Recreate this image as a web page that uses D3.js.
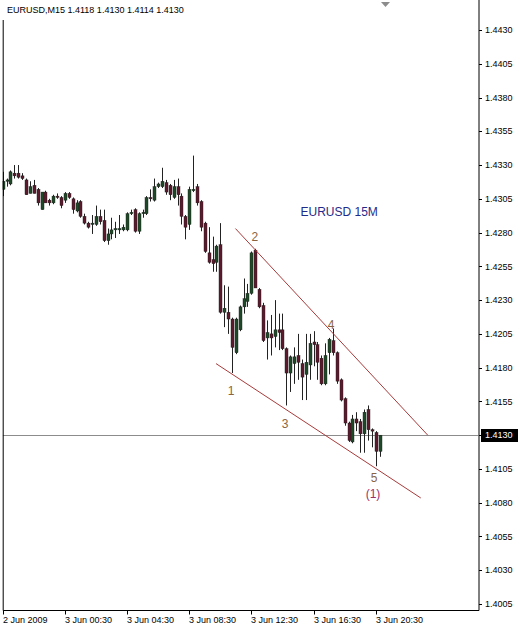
<!DOCTYPE html>
<html>
<head>
<meta charset="utf-8">
<script src="https://cdn.jsdelivr.net/npm/d3@7"></script>
<style>
  body { margin: 0; background: #fff; }
  svg { display: block; font-family: "Liberation Sans", Arial, sans-serif; }
</style>
</head>
<body>
<div id="chart-container"></div>
<script>

// Chart data (EURUSD M15, 2 Jun 20:30 .. 3 Jun 20:45).
const titleText = "EURUSD,M15  1.4118 1.4130 1.4114 1.4130";

const opens = [
  1.4312, 1.4318, 1.4316, 1.4324, 1.4324, 1.4322, 1.4319, 1.4309, 1.4315, 1.4312,
  1.4297, 1.4310, 1.4304, 1.4302, 1.4307, 1.4306, 1.4304, 1.4309, 1.4305, 1.4296,
  1.4303, 1.4292, 1.4287, 1.4286, 1.4286, 1.4292, 1.4289, 1.4274, 1.4279, 1.4282,
  1.4282, 1.4282, 1.4282, 1.4294, 1.4297, 1.4281, 1.4294, 1.4294, 1.4306, 1.4304,
  1.4314, 1.4314, 1.4317, 1.4315, 1.4306, 1.4314, 1.4307, 1.4292, 1.4286, 1.4311,
  1.4314, 1.4303, 1.4287, 1.4265, 1.4260, 1.4258, 1.4271, 1.4221, 1.4221, 1.4216,
  1.4191, 1.4208, 1.4225, 1.4229, 1.4235, 1.4267, 1.4238, 1.4226, 1.4202, 1.4205,
  1.4203, 1.4208, 1.4208, 1.4194, 1.4176, 1.4183, 1.4189, 1.4183, 1.4175, 1.4182,
  1.4199, 1.4197, 1.4187, 1.4168, 1.4191, 1.4200, 1.4191, 1.4171, 1.4157, 1.4139,
  1.4125, 1.4142, 1.4140, 1.4131, 1.4149, 1.4134, 1.4132, 1.4118
];
const highs = [
  1.4325, 1.4320, 1.4326, 1.4330, 1.4330, 1.4324, 1.4320, 1.4318, 1.4319, 1.4313,
  1.4310, 1.4311, 1.4305, 1.4308, 1.4309, 1.4307, 1.4310, 1.4310, 1.4306, 1.4304,
  1.4304, 1.4294, 1.4288, 1.4293, 1.4300, 1.4297, 1.4297, 1.4283, 1.4291, 1.4288,
  1.4293, 1.4286, 1.4295, 1.4297, 1.4298, 1.4295, 1.4297, 1.4307, 1.4312, 1.4320,
  1.4317, 1.4328, 1.4319, 1.4316, 1.4319, 1.4320, 1.4309, 1.4293, 1.4314, 1.4337,
  1.4316, 1.4304, 1.4288, 1.4284, 1.4277, 1.4271, 1.4287, 1.4241, 1.4240, 1.4217,
  1.4217, 1.4226, 1.4246, 1.4242, 1.4266, 1.4268, 1.4239, 1.4228, 1.4215, 1.4219,
  1.4230, 1.4220, 1.4220, 1.4195, 1.4189, 1.4195, 1.4205, 1.4186, 1.4205, 1.4205,
  1.4207, 1.4199, 1.4189, 1.4198, 1.4202, 1.4209, 1.4192, 1.4172, 1.4158, 1.4140,
  1.4145, 1.4147, 1.4142, 1.4149, 1.4152, 1.4135, 1.4133, 1.4130
];
const lows = [
  1.4307, 1.4314, 1.4315, 1.4320, 1.4320, 1.4319, 1.4308, 1.4309, 1.4309, 1.4300,
  1.4297, 1.4302, 1.4300, 1.4301, 1.4305, 1.4298, 1.4302, 1.4305, 1.4294, 1.4295,
  1.4291, 1.4286, 1.4283, 1.4279, 1.4285, 1.4286, 1.4273, 1.4271, 1.4275, 1.4276,
  1.4279, 1.4281, 1.4281, 1.4293, 1.4280, 1.4279, 1.4291, 1.4293, 1.4303, 1.4303,
  1.4313, 1.4313, 1.4308, 1.4304, 1.4305, 1.4300, 1.4286, 1.4275, 1.4282, 1.4310,
  1.4300, 1.4281, 1.4265, 1.4257, 1.4251, 1.4251, 1.4220, 1.4210, 1.4205, 1.4176,
  1.4190, 1.4207, 1.4220, 1.4225, 1.4234, 1.4239, 1.4224, 1.4199, 1.4186, 1.4189,
  1.4195, 1.4193, 1.4193, 1.4152, 1.4162, 1.4168, 1.4171, 1.4156, 1.4156, 1.4171,
  1.4181, 1.4171, 1.4167, 1.4167, 1.4175, 1.4189, 1.4168, 1.4155, 1.4137, 1.4125,
  1.4124, 1.4133, 1.4117, 1.4117, 1.4126, 1.4121, 1.4107, 1.4114
];
const closes = [
  1.4318, 1.4319, 1.4325, 1.4322, 1.4321, 1.4320, 1.4308, 1.4314, 1.4309, 1.4302,
  1.4310, 1.4302, 1.4302, 1.4307, 1.4306, 1.4300, 1.4309, 1.4306, 1.4297, 1.4302,
  1.4292, 1.4287, 1.4284, 1.4287, 1.4292, 1.4288, 1.4274, 1.4279, 1.4282, 1.4283,
  1.4283, 1.4284, 1.4294, 1.4295, 1.4281, 1.4294, 1.4295, 1.4306, 1.4305, 1.4314,
  1.4316, 1.4318, 1.4310, 1.4308, 1.4314, 1.4308, 1.4292, 1.4284, 1.4312, 1.4312,
  1.4302, 1.4284, 1.4266, 1.4258, 1.4257, 1.4270, 1.4221, 1.4224, 1.4216, 1.4195,
  1.4216, 1.4225, 1.4231, 1.4235, 1.4265, 1.4239, 1.4225, 1.4200, 1.4206, 1.4202,
  1.4208, 1.4206, 1.4194, 1.4176, 1.4188, 1.4188, 1.4184, 1.4173, 1.4184, 1.4198,
  1.4197, 1.4184, 1.4168, 1.4189, 1.4201, 1.4191, 1.4170, 1.4156, 1.4139, 1.4126,
  1.4142, 1.4139, 1.4131, 1.4147, 1.4134, 1.4133, 1.4118, 1.4130
];

// Time axis ticks (bar index) and their labels.
const timeTickBars = [0, 16, 32, 48, 64, 80, 96];
const timeLabels = ["2 Jun 2009", "3 Jun 00:30", "3 Jun 04:30", "3 Jun 08:30", "3 Jun 12:30", "3 Jun 16:30", "3 Jun 20:30"];

// Price axis ticks.
const priceTicks = [1.4005, 1.4030, 1.4055, 1.4080, 1.4105, 1.4130, 1.4155, 1.4180, 1.4205, 1.4230, 1.4255, 1.4280, 1.4305, 1.4330, 1.4355, 1.4380, 1.4405, 1.4430];
const priceLabels = ["1.4005", "1.4030", "1.4055", "1.4080", "1.4105", "1.4130", "1.4155", "1.4180", "1.4205", "1.4230", "1.4255", "1.4280", "1.4305", "1.4330", "1.4355", "1.4380", "1.4405", "1.4430"];
const lastPrice = 1.4130;

// Trend lines drawn on the chart (bar index, price).
const trendBars = [[59.9, 109.4], [54.9, 107.6]];
const trendPrices = [[1.4283, 1.4130], [1.4183, 1.40835]];

// Wave labels (bar index, price).
const waveTexts = ["1", "2", "3", "4", "5"];
const waveBars = [58.8, 64.9, 72.7, 84.5, 95.6];
const wavePrices = [1.4163, 1.42767, 1.41383, 1.42116, 1.40983];
const degreeText = "(1)";
const degreeBar = 95.3;
const degreePrice = 1.40865;
const noteText = "EURUSD 15M";
const noteBar = 86.6;
const notePrice = 1.42952;

// Sizing.
const fWidth = 520, fHeight = 625;
const plot = { left: 2.7, right: 478.5, top: 0, bottom: 610 };

const svg = d3.select("#chart-container").append("svg")
  .attr("width", fWidth)
  .attr("height", fHeight);

// Scales.
const xScale = d3.scaleLinear()
  .domain([0, 96])
  .range([2.7, 375.7]);

const yScale = d3.scaleLinear()
  .domain([1.4005, 1.4430])
  .range([604, 30]);

svg.append("defs").append("clipPath")
  .attr("id", "plot-clip")
  .append("rect")
    .attr("x", plot.left)
    .attr("y", plot.top)
    .attr("width", plot.right - plot.left)
    .attr("height", plot.bottom - plot.top);

const chartCanvas = svg.append("g")
  .attr("clip-path", "url(#plot-clip)");

// Last price line.
chartCanvas.append("line")
  .attr("x1", plot.left)
  .attr("x2", plot.right)
  .attr("y1", Math.round(yScale(lastPrice)) + 0.5)
  .attr("y2", Math.round(yScale(lastPrice)) + 0.5)
  .attr("stroke", "#8c8c8c")
  .attr("stroke-width", 1);

// Candles.
const bars = d3.range(opens.length);

chartCanvas.append("g")
  .attr("id", "chart-wicks")
  .selectAll("line")
  .data(bars)
  .enter()
  .append("line")
    .attr("x1", i => Math.round(xScale(i)) + 0.5)
    .attr("x2", i => Math.round(xScale(i)) + 0.5)
    .attr("y1", i => yScale(highs[i]))
    .attr("y2", i => yScale(lows[i]))
    .attr("stroke", "#222")
    .attr("stroke-width", 1);

chartCanvas.append("g")
  .attr("id", "chart-bodies")
  .selectAll("rect")
  .data(bars)
  .enter()
  .append("rect")
    .attr("x", i => Math.round(xScale(i)) - 1)
    .attr("y", i => yScale(Math.max(opens[i], closes[i])))
    .attr("width", 3)
    .attr("height", i => Math.max(1, Math.abs(yScale(opens[i]) - yScale(closes[i]))))
    .attr("fill", i => closes[i] >= opens[i] ? "#1e4a28" : "#5c1a2c")
    .attr("stroke", "#1a1a1a")
    .attr("stroke-width", 0.4);

// Trend lines.
chartCanvas.append("g")
  .attr("id", "trend-lines")
  .selectAll("line")
  .data(d3.range(trendBars.length))
  .enter()
  .append("line")
    .attr("x1", k => xScale(trendBars[k][0]))
    .attr("x2", k => xScale(trendBars[k][1]))
    .attr("y1", k => yScale(trendPrices[k][0]))
    .attr("y2", k => yScale(trendPrices[k][1]))
    .attr("stroke", "#a83a3a")
    .attr("stroke-width", 1);

// Wave labels.
chartCanvas.append("g")
  .selectAll("text")
  .data(d3.range(waveTexts.length))
  .enter()
  .append("text")
    .attr("x", k => xScale(waveBars[k]))
    .attr("y", k => yScale(wavePrices[k]))
    .attr("dy", "0.35em")
    .attr("text-anchor", "middle")
    .attr("font-size", 12)
    .attr("fill", "#8a6442")
    .text(k => waveTexts[k]);

chartCanvas.append("text")
  .attr("x", xScale(degreeBar))
  .attr("y", yScale(degreePrice))
  .attr("dy", "0.35em")
  .attr("text-anchor", "middle")
  .attr("font-size", 12)
  .attr("fill", "#9a2f6e")
  .text(degreeText);

chartCanvas.append("text")
  .attr("x", xScale(noteBar))
  .attr("y", yScale(notePrice))
  .attr("dy", "0.35em")
  .attr("text-anchor", "middle")
  .attr("font-size", 12)
  .attr("fill", "#1f2b8a")
  .text(noteText);

// Frame.
svg.append("path")
  .attr("d", `M${plot.left + 0.5},20 V${plot.bottom + 0.5} H${plot.right + 0.5} V0`)
  .attr("fill", "none")
  .attr("stroke", "#000")
  .attr("stroke-width", 1);

// Title.
svg.append("text")
  .attr("x", 7)
  .attr("y", 13)
  .attr("font-size", 9)
  .attr("fill", "#000")
  .text(titleText);

// Shift marker.
svg.append("path")
  .attr("d", "M381,2 h9 l-4.5,5 z")
  .attr("fill", "#8c8c8c");

// Price axis.
const yAxis = svg.append("g")
  .attr("id", "y-axis")
  .attr("transform", `translate(${plot.right + 0.5} 0)`);

yAxis.selectAll("line")
  .data(priceTicks)
  .enter()
  .append("line")
    .attr("x1", 0)
    .attr("x2", 3)
    .attr("y1", d => Math.round(yScale(d)) + 0.5)
    .attr("y2", d => Math.round(yScale(d)) + 0.5)
    .attr("stroke", "#000");

yAxis.selectAll("text")
  .data(d3.range(priceTicks.length))
  .enter()
  .append("text")
    .attr("x", 6)
    .attr("y", k => yScale(priceTicks[k]))
    .attr("dy", "0.35em")
    .attr("font-size", 9)
    .attr("fill", "#000")
    .text(k => priceLabels[k]);

// Last price box.
yAxis.append("rect")
  .attr("x", 2)
  .attr("y", Math.round(yScale(lastPrice)) - 6)
  .attr("width", 37)
  .attr("height", 13)
  .attr("fill", "#000");

yAxis.append("text")
  .attr("x", 6)
  .attr("y", yScale(lastPrice))
  .attr("dy", "0.35em")
  .attr("font-size", 9)
  .attr("fill", "#fff")
  .text(d3.format(".4f")(lastPrice));

// Time axis.
const xAxis = svg.append("g")
  .attr("id", "x-axis")
  .attr("transform", `translate(0 ${plot.bottom + 0.5})`);

xAxis.selectAll("line")
  .data(timeTickBars)
  .enter()
  .append("line")
    .attr("x1", d => Math.round(xScale(d)) + 0.5)
    .attr("x2", d => Math.round(xScale(d)) + 0.5)
    .attr("y1", 0)
    .attr("y2", 4)
    .attr("stroke", "#000");

xAxis.selectAll("text")
  .data(d3.range(timeTickBars.length))
  .enter()
  .append("text")
    .attr("x", k => Math.round(xScale(timeTickBars[k])))
    .attr("y", 12)
    .attr("font-size", 9)
    .attr("fill", "#000")
    .text(k => timeLabels[k]);

</script>
</body>
</html>
